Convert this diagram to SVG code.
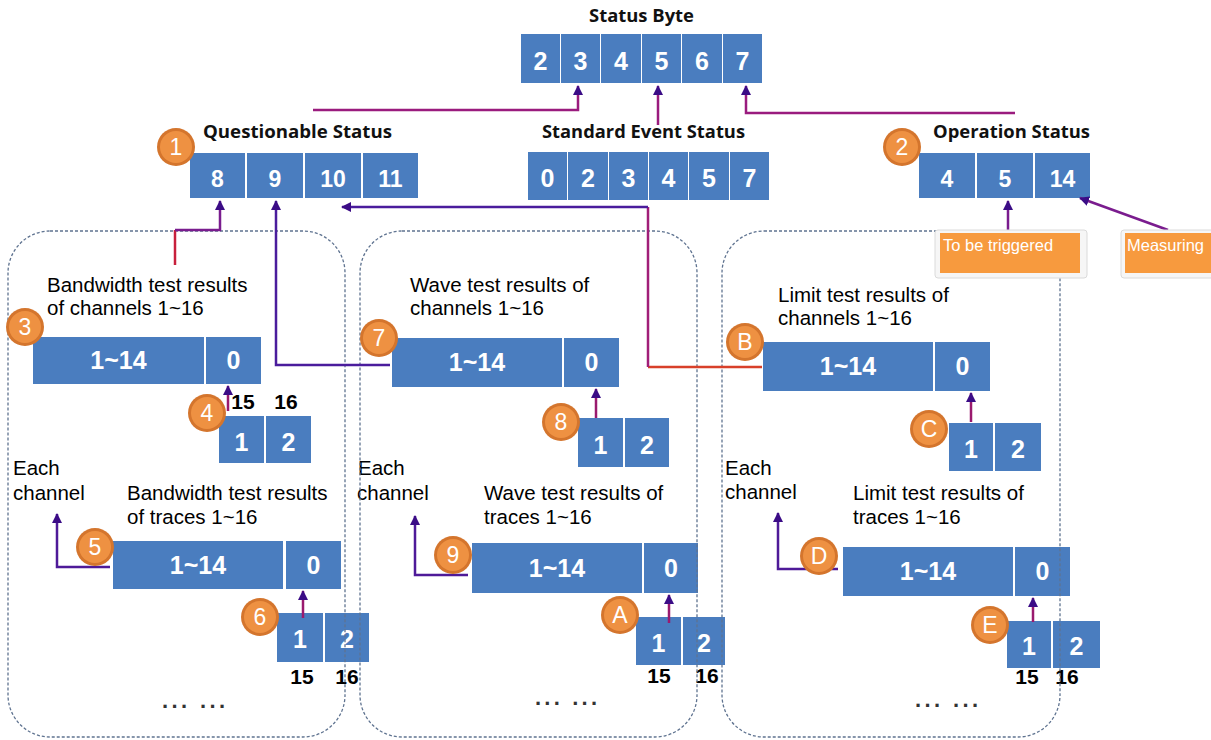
<svg xmlns="http://www.w3.org/2000/svg" width="1211" height="740" viewBox="0 0 1211 740">
<defs>
<style>
.c{fill:#4A7DBF}
.d{font-family:"Liberation Sans",Arial,sans-serif;font-weight:bold;fill:#fff;text-anchor:middle}
.d22{font-size:23px}
.d24{font-size:25px}
.t{font-family:"Open Sans","Liberation Sans",sans-serif;font-weight:bold;font-size:17px;fill:#111}
.l{font-family:"Liberation Sans",Arial,sans-serif;font-size:20.5px;fill:#000}
.n{font-family:"Liberation Sans",Arial,sans-serif;font-weight:bold;font-size:21px;fill:#000;text-anchor:middle}
.dots{font-family:"Liberation Sans",Arial,sans-serif;font-weight:bold;font-size:22px;fill:#333}
.panel{fill:none;stroke:#5F7390;stroke-width:1.3;stroke-dasharray:3 2}
.bo{fill:#D4752D}
.bi{fill:#EE9142}
.bt{font-family:"Liberation Sans",Arial,sans-serif;font-size:23px;fill:#fff;text-anchor:middle}
.ln{fill:none;stroke-width:2.5}
.or{fill:#F79A3E}
.sh{fill:#F6F6F6;stroke:#DADADA;stroke-width:1}
.ot{font-family:"Liberation Sans",Arial,sans-serif;font-size:16.5px;fill:#fff}
</style>
<marker id="ah" viewBox="0 0 10 10" refX="9" refY="5" markerWidth="10" markerHeight="10" markerUnits="userSpaceOnUse" orient="auto">
<path d="M0,0 L10,5 L0,10 z" fill="#3B0C86"/>
</marker>
</defs>
<rect width="1211" height="740" fill="#fff"/>

<g id="status-byte">
<text class="t" x="589" y="22" textLength="105" lengthAdjust="spacingAndGlyphs">Status Byte</text>
<rect class="c" x="521" y="34" width="39" height="49"/>
<rect class="c" x="561" y="34" width="39" height="49"/>
<rect class="c" x="601" y="34" width="40" height="49"/>
<rect class="c" x="642" y="34" width="39" height="49"/>
<rect class="c" x="682" y="34" width="40" height="49"/>
<rect class="c" x="723" y="34" width="39" height="49"/>
<text class="d d24" x="540.5" y="70">2</text>
<text class="d d24" x="580.5" y="70">3</text>
<text class="d d24" x="621" y="70">4</text>
<text class="d d24" x="661.5" y="70">5</text>
<text class="d d24" x="702" y="70">6</text>
<text class="d d24" x="742.5" y="70">7</text>
</g>

<g id="standard-event-status">
<text class="t" x="542" y="138" textLength="203" lengthAdjust="spacingAndGlyphs">Standard Event Status</text>
<rect class="c" x="528" y="152" width="39" height="48"/>
<rect class="c" x="568" y="152" width="40" height="48"/>
<rect class="c" x="609" y="152" width="39" height="48"/>
<rect class="c" x="649" y="152" width="39" height="48"/>
<rect class="c" x="689" y="152" width="40" height="48"/>
<rect class="c" x="730" y="152" width="39" height="48"/>
<text class="d d24" x="547.5" y="187">0</text>
<text class="d d24" x="588" y="187">2</text>
<text class="d d24" x="628.5" y="187">3</text>
<text class="d d24" x="668.5" y="187">4</text>
<text class="d d24" x="709" y="187">5</text>
<text class="d d24" x="749.5" y="187">7</text>
</g>

<g id="questionable-status">
<text class="t" x="203" y="138" textLength="189" lengthAdjust="spacingAndGlyphs">Questionable Status</text>
<rect class="c" x="190" y="153" width="55" height="45"/>
<rect class="c" x="247" y="153" width="56" height="45"/>
<rect class="c" x="305" y="153" width="56" height="45"/>
<rect class="c" x="363" y="153" width="55" height="45"/>
<text class="d d22" x="217.5" y="187">8</text>
<text class="d d22" x="275" y="187">9</text>
<text class="d d22" x="333" y="187">10</text>
<text class="d d22" x="390.5" y="187">11</text>
</g>

<g id="operation-status">
<text class="t" x="933" y="138" textLength="157" lengthAdjust="spacingAndGlyphs">Operation Status</text>
<rect class="c" x="919" y="153" width="56" height="45"/>
<rect class="c" x="977" y="153" width="56" height="45"/>
<rect class="c" x="1035" y="153" width="55" height="45"/>
<text class="d d22" x="947" y="187">4</text>
<text class="d d22" x="1005" y="187">5</text>
<text class="d d22" x="1062.5" y="187">14</text>
</g>

<g id="bw-channels">
<text class="l" x="47" y="292">Bandwidth test results</text>
<text class="l" x="47" y="315">of channels 1~16</text>
<rect class="c" x="33" y="337" width="171" height="47"/>
<rect class="c" x="206" y="337" width="55" height="47"/>
<text class="d d24" x="118.5" y="369">1~14</text>
<text class="d d24" x="233.5" y="369">0</text>
</g>
<g id="bw-channels-ext">
<rect class="c" x="219" y="416" width="45" height="47"/>
<rect class="c" x="266" y="416" width="45" height="47"/>
<text class="d d24" x="241.5" y="451">1</text>
<text class="d d24" x="288.5" y="451">2</text>
<text class="n" x="243" y="409">15</text>
<text class="n" x="286" y="409">16</text>
</g>
<g id="bw-traces">
<text class="l" x="13" y="475">Each</text>
<text class="l" x="13" y="500">channel</text>
<text class="l" x="127" y="500">Bandwidth test results</text>
<text class="l" x="127" y="524">of traces 1~16</text>
<rect class="c" x="113" y="541" width="170" height="48"/>
<rect class="c" x="286" y="541" width="55" height="48"/>
<text class="d d24" x="198" y="574">1~14</text>
<text class="d d24" x="313.5" y="574">0</text>
</g>
<g id="bw-traces-ext">
<rect class="c" x="277" y="613" width="46" height="49"/>
<rect class="c" x="325" y="613" width="44" height="49"/>
<text class="d d24" x="300" y="648">1</text>
<text class="d d24" x="347" y="648">2</text>
<text class="n" x="302" y="684">15</text>
<text class="n" x="347" y="684">16</text>
<text class="dots" x="162" y="708" textLength="63" lengthAdjust="spacing">... ...</text>
</g>

<g id="wave-channels">
<text class="l" x="410" y="292">Wave test results of</text>
<text class="l" x="410" y="315">channels 1~16</text>
<rect class="c" x="392" y="338" width="170" height="49"/>
<rect class="c" x="564" y="338" width="55" height="49"/>
<text class="d d24" x="477" y="371">1~14</text>
<text class="d d24" x="591.5" y="371">0</text>
</g>
<g id="wave-channels-ext">
<rect class="c" x="578" y="418" width="45" height="49"/>
<rect class="c" x="625" y="418" width="44" height="49"/>
<text class="d d24" x="600.5" y="454">1</text>
<text class="d d24" x="647" y="454">2</text>
</g>
<g id="wave-traces">
<text class="l" x="358" y="475">Each</text>
<text class="l" x="357" y="500">channel</text>
<text class="l" x="484" y="500">Wave test results of</text>
<text class="l" x="484" y="524">traces 1~16</text>
<rect class="c" x="472" y="543" width="170" height="50"/>
<rect class="c" x="644" y="543" width="54" height="50"/>
<text class="d d24" x="557" y="577">1~14</text>
<text class="d d24" x="671" y="577">0</text>
</g>
<g id="wave-traces-ext">
<rect class="c" x="636" y="617" width="45" height="48"/>
<rect class="c" x="683" y="617" width="42" height="48"/>
<text class="d d24" x="658.5" y="652">1</text>
<text class="d d24" x="704" y="652">2</text>
<text class="n" x="659" y="683">15</text>
<text class="n" x="707" y="683">16</text>
<text class="dots" x="535" y="705" textLength="62" lengthAdjust="spacing">... ...</text>
</g>

<g id="limit-channels">
<text class="l" x="778" y="302">Limit test results of</text>
<text class="l" x="778" y="325">channels 1~16</text>
<rect class="c" x="763" y="342" width="170" height="49"/>
<rect class="c" x="935" y="342" width="55" height="49"/>
<text class="d d24" x="848" y="375">1~14</text>
<text class="d d24" x="962.5" y="375">0</text>
</g>
<g id="limit-channels-ext">
<rect class="c" x="949" y="423" width="44" height="48"/>
<rect class="c" x="995" y="423" width="46" height="48"/>
<text class="d d24" x="971" y="458">1</text>
<text class="d d24" x="1018" y="458">2</text>
</g>
<g id="limit-traces">
<text class="l" x="725" y="475">Each</text>
<text class="l" x="725" y="499">channel</text>
<text class="l" x="853" y="500">Limit test results of</text>
<text class="l" x="853" y="524">traces 1~16</text>
<rect class="c" x="843" y="547" width="170" height="49"/>
<rect class="c" x="1015" y="547" width="55" height="49"/>
<text class="d d24" x="928" y="580">1~14</text>
<text class="d d24" x="1042.5" y="580">0</text>
</g>
<g id="limit-traces-ext">
<rect class="c" x="1007" y="621" width="44" height="47"/>
<rect class="c" x="1053" y="621" width="47" height="47"/>
<text class="d d24" x="1029" y="655">1</text>
<text class="d d24" x="1076.5" y="655">2</text>
<text class="n" x="1027" y="684">15</text>
<text class="n" x="1067" y="684">16</text>
<text class="dots" x="915" y="707" textLength="63" lengthAdjust="spacing">... ...</text>
</g>

<g id="panels">
<rect class="panel" x="8" y="231" width="337" height="506" rx="42"/>
<rect class="panel" x="360" y="231" width="337" height="506" rx="42"/>
<rect class="panel" x="722" y="231" width="338" height="506" rx="42"/>
</g>

<g id="connectors">
<path class="ln" d="M313,110 H578 V86" stroke="#9A1B7E" marker-end="url(#ah)"/>
<path class="ln" d="M658,125 V86" stroke="#9A1B7E" marker-end="url(#ah)"/>
<path class="ln" d="M1015,113 H746 V86" stroke="#9A1B7E" marker-end="url(#ah)"/>
<path class="ln" d="M175,265 V230" stroke="#C8203C"/>
<path class="ln" d="M175,230 H220 V201" stroke="#7A1C8E" marker-end="url(#ah)"/>
<path class="ln" d="M390,365 H276 V201" stroke="#4A1C9C" marker-end="url(#ah)"/>
<path class="ln" d="M762,367 H648" stroke="#D8402A"/>
<path class="ln" d="M648,367 V207" stroke="#A01E78"/>
<path class="ln" d="M648,207 H342" stroke="#4A1C9C" marker-end="url(#ah)"/>
<path class="ln" d="M1008,233 V201" stroke="#7A1C8E" marker-end="url(#ah)"/>
<path class="ln" d="M1168,230 L1080,198" stroke="#7A1C8E" marker-end="url(#ah)"/>
<path class="ln" d="M228,411 V386" stroke="#9A1A6E" marker-end="url(#ah)"/>
<path class="ln" d="M303,618 V591" stroke="#9A1A6E" marker-end="url(#ah)"/>
<path class="ln" d="M596,418 V389" stroke="#9A1A6E" marker-end="url(#ah)"/>
<path class="ln" d="M669,623 V595" stroke="#9A1A6E" marker-end="url(#ah)"/>
<path class="ln" d="M971,422 V393" stroke="#9A1A6E" marker-end="url(#ah)"/>
<path class="ln" d="M1033,622 V598" stroke="#9A1A6E" marker-end="url(#ah)"/>
<path class="ln" d="M110,567 H57 V514" stroke="#4E1A98" marker-end="url(#ah)"/>
<path class="ln" d="M468,575 H415 V516" stroke="#4E1A98" marker-end="url(#ah)"/>
<path class="ln" d="M838,569 H778 V513" stroke="#4E1A98" marker-end="url(#ah)"/>
</g>

<g id="to-be-triggered">
<rect class="sh" x="935" y="230" width="152" height="48" rx="3"/>
<rect class="or" x="940" y="233" width="140" height="40"/>
<text class="ot" x="943" y="251">To be triggered</text>
</g>
<g id="measuring">
<rect class="sh" x="1121" y="230" width="95" height="48" rx="3"/>
<rect class="or" x="1125" y="233" width="86" height="40"/>
<text class="ot" x="1127" y="251">Measuring</text>
</g>

<g id="badge-1"><circle class="bo" cx="176" cy="147" r="19"/><circle class="bi" cx="176" cy="147" r="16"/><text class="bt" x="176" y="155">1</text></g>
<g id="badge-2"><circle class="bo" cx="902" cy="147" r="19"/><circle class="bi" cx="902" cy="147" r="16"/><text class="bt" x="902" y="155">2</text></g>
<g id="badge-3"><circle class="bo" cx="25" cy="327" r="19"/><circle class="bi" cx="25" cy="327" r="16"/><text class="bt" x="25" y="335">3</text></g>
<g id="badge-4"><circle class="bo" cx="207" cy="413" r="19"/><circle class="bi" cx="207" cy="413" r="16"/><text class="bt" x="207" y="421">4</text></g>
<g id="badge-5"><circle class="bo" cx="95" cy="547" r="19"/><circle class="bi" cx="95" cy="547" r="16"/><text class="bt" x="95" y="555">5</text></g>
<g id="badge-6"><circle class="bo" cx="260" cy="617" r="19"/><circle class="bi" cx="260" cy="617" r="16"/><text class="bt" x="260" y="625">6</text></g>
<g id="badge-7"><circle class="bo" cx="379" cy="338" r="19"/><circle class="bi" cx="379" cy="338" r="16"/><text class="bt" x="379" y="346">7</text></g>
<g id="badge-8"><circle class="bo" cx="561" cy="422" r="19"/><circle class="bi" cx="561" cy="422" r="16"/><text class="bt" x="561" y="430">8</text></g>
<g id="badge-9"><circle class="bo" cx="453" cy="555" r="19"/><circle class="bi" cx="453" cy="555" r="16"/><text class="bt" x="453" y="563">9</text></g>
<g id="badge-A"><circle class="bo" cx="620" cy="615" r="19"/><circle class="bi" cx="620" cy="615" r="16"/><text class="bt" x="620" y="623">A</text></g>
<g id="badge-B"><circle class="bo" cx="745" cy="342" r="19"/><circle class="bi" cx="745" cy="342" r="16"/><text class="bt" x="745" y="350">B</text></g>
<g id="badge-C"><circle class="bo" cx="929" cy="429" r="19"/><circle class="bi" cx="929" cy="429" r="16"/><text class="bt" x="929" y="437">C</text></g>
<g id="badge-D"><circle class="bo" cx="819" cy="556" r="19"/><circle class="bi" cx="819" cy="556" r="16"/><text class="bt" x="819" y="564">D</text></g>
<g id="badge-E"><circle class="bo" cx="990" cy="625" r="19"/><circle class="bi" cx="990" cy="625" r="16"/><text class="bt" x="990" y="633">E</text></g>
</svg>
